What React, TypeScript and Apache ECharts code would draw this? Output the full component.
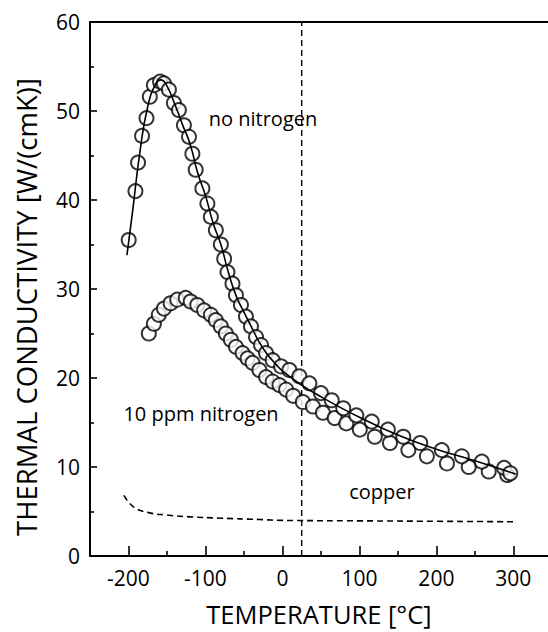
import React, { useEffect, useRef } from "react";
import * as echarts from "echarts";

// Temperature [°C], thermal conductivity [W/(cmK)]
const noNitrogenPoints: number[][] = [
  [-199.7, 35.5], [-191, 41.0], [-187.6, 44.2], [-182.4, 47.2], [-176.6, 49.2],
  [-172.3, 51.6], [-167, 52.9], [-159, 53.3], [-154, 53.1], [-147.5, 52.4],
  [-141, 50.9], [-134.5, 50.1], [-128, 48.4], [-121.4, 47.1], [-117, 45.2],
  [-112.7, 43.4], [-104, 41.3], [-97.5, 39.6], [-93, 38.1], [-86.5, 36.6],
  [-80, 35.0], [-75.7, 33.4], [-71.4, 31.9], [-64.9, 30.6], [-60.4, 29.3],
  [-53.9, 28.2], [-47.4, 26.9], [-40.9, 25.8], [-34.3, 24.6], [-27.8, 23.7],
  [-21.3, 22.8], [-12.7, 22.0], [-1.7, 21.3], [9, 20.9], [22, 20.2],
  [35, 19.4], [50, 18.3], [64, 17.5], [79, 16.6], [96, 15.8], [116, 15.1],
  [137, 14.2], [157, 13.4], [179, 12.7], [207, 11.9], [233, 11.2],
  [259, 10.6], [288, 9.9], [296, 9.3],
];

const noNitrogenFit: number[][] = [
  [-202, 33.8], [-195, 38.5], [-185, 45.5], [-175, 50.5], [-165, 53.0],
  [-158, 53.5], [-150, 52.8], [-140, 50.8], [-130, 48.5], [-120, 46.3],
  [-110, 43.0], [-100, 40.5], [-90, 37.4], [-80, 35.0], [-70, 31.8],
  [-60, 29.2], [-50, 27.4], [-40, 25.7], [-30, 24.0], [-20, 22.7],
  [-10, 21.7], [0, 20.8], [25, 19.2], [50, 17.9], [75, 16.7], [100, 15.6],
  [150, 13.6], [200, 12.0], [250, 10.7], [303, 9.2],
];

const tenPpmPoints: number[][] = [
  [-173.6, 25.0], [-167, 26.1], [-160.6, 27.1], [-154, 27.8], [-145.3, 28.4],
  [-136.7, 28.8], [-125.7, 29.0], [-119.2, 28.6], [-110.6, 28.2], [-101.8, 27.6],
  [-93, 27.1], [-86.6, 26.5], [-80, 25.8], [-73.5, 25.0], [-67, 24.3],
  [-60.4, 23.5], [-51.8, 22.8], [-45.3, 22.2], [-38.8, 21.7], [-30, 20.9],
  [-21.3, 20.1], [-12.7, 19.6], [-3.9, 19.2], [4.8, 18.7], [14, 18.0],
  [26.5, 17.3], [39.6, 16.8], [52.6, 16.1], [67.9, 15.5], [83, 14.9],
  [100.5, 14.2], [120, 13.4], [139.7, 12.7], [163.6, 11.9], [187.6, 11.2],
  [213.7, 10.4], [242, 10.0], [268, 9.5], [292, 9.1],
];

const copperCurve: number[][] = [
  [-206, 6.8], [-193, 5.5], [-175, 4.9], [-150, 4.6], [-120, 4.4],
  [-80, 4.25], [-30, 4.1], [0, 4.0], [100, 3.95], [200, 3.9], [300, 3.85],
];

const roomTemperature = 25;
const xMajorTicks = [-200, -100, 0, 100, 200, 300];
const xMinorTicks = [-150, -50, 50, 150, 250];

const FONT = "Open Sans";

export default function App() {
  const ref = useRef<HTMLDivElement>(null);
  useEffect(() => {
    if (!ref.current) return;
    const chart = echarts.init(ref.current, undefined, { renderer: "svg" });
    const circleStyle = {
      color: "#fff",
      borderColor: "#000",
      borderWidth: 2,
    };
    chart.setOption({
      animation: false,
      backgroundColor: "#fff",
      grid: { left: 90, right: 0, top: 22, bottom: 76, containLabel: false, outerBoundsMode: "none" },
      xAxis: [
        {
          type: "value",
          min: -250,
          max: 345,
          position: "bottom",
          axisLine: { show: true, onZero: false, lineStyle: { color: "#000", width: 2 } },
          axisTick: { show: true, inside: true, length: 10, customValues: xMajorTicks, lineStyle: { color: "#000", width: 1.6 } },
          axisLabel: { show: true, customValues: xMajorTicks, color: "#000", fontSize: 21, fontFamily: FONT, margin: 11 },
          splitLine: { show: false },
          name: "TEMPERATURE [°C]",
          nameLocation: "middle",
          nameGap: 45,
          nameTextStyle: { color: "#000", fontSize: 25.5, fontFamily: FONT },
        },
        {
          type: "value",
          min: -250,
          max: 345,
          position: "bottom",
          axisLine: { show: false },
          axisTick: { show: true, inside: true, length: 5, customValues: xMinorTicks, lineStyle: { color: "#000", width: 1.6 } },
          axisLabel: { show: false },
          splitLine: { show: false },
        },
        {
          type: "value",
          min: -250,
          max: 345,
          position: "top",
          axisLine: { show: true, onZero: false, lineStyle: { color: "#000", width: 2 } },
          axisTick: { show: false },
          axisLabel: { show: false },
          splitLine: { show: false },
        },
      ],
      yAxis: [
        {
          type: "value",
          min: 0,
          max: 60,
          interval: 10,
          axisLine: { show: true, onZero: false, lineStyle: { color: "#000", width: 2 } },
          axisTick: { show: true, inside: true, length: 7, lineStyle: { color: "#000", width: 1.6 } },
          minorTick: { show: true, splitNumber: 2, length: 4, lineStyle: { color: "#000", width: 1.6 } },
          axisLabel: { color: "#000", fontSize: 21, fontFamily: FONT, margin: 10 },
          splitLine: { show: false },
          minorSplitLine: { show: false },
        },
      ],
      graphic: [
        {
          type: "text",
          x: 26,
          y: 307,
          rotation: Math.PI / 2,
          style: {
            text: "THERMAL CONDUCTIVITY [W/(cmK)]",
            fill: "#000",
            font: `27.5px "${FONT}"`,
            textAlign: "center",
            textVerticalAlign: "middle",
          },
        },
        {
          type: "text",
          x: 263,
          y: 118,
          style: { text: "no nitrogen", fill: "#000", font: `20px "${FONT}"`, textAlign: "center", textVerticalAlign: "middle" },
        },
        {
          type: "text",
          x: 201,
          y: 413,
          style: { text: "10 ppm nitrogen", fill: "#000", font: `20px "${FONT}"`, textAlign: "center", textVerticalAlign: "middle" },
        },
        {
          type: "text",
          x: 382,
          y: 491,
          style: { text: "copper", fill: "#000", font: `20px "${FONT}"`, textAlign: "center", textVerticalAlign: "middle" },
        },
      ],
      series: [
        {
          type: "line",
          data: [[roomTemperature, 0], [roomTemperature, 60]],
          showSymbol: false,
          lineStyle: { color: "#000", width: 1.4, type: [6, 4] },
          z: 1,
          silent: true,
        },
        {
          type: "line",
          data: copperCurve,
          smooth: true,
          showSymbol: false,
          lineStyle: { color: "#000", width: 1.6, type: [6, 4] },
          z: 2,
          silent: true,
        },
        {
          type: "scatter",
          data: tenPpmPoints,
          symbol: "circle",
          symbolSize: 14,
          itemStyle: circleStyle,
          z: 3,
        },
        {
          type: "scatter",
          data: noNitrogenPoints,
          symbol: "circle",
          symbolSize: 14,
          itemStyle: circleStyle,
          z: 4,
        },
        {
          type: "line",
          data: noNitrogenFit,
          smooth: true,
          showSymbol: false,
          lineStyle: { color: "#000", width: 1.6 },
          z: 5,
          silent: true,
        },
      ],
    });
    return () => chart.dispose();
  }, []);
  return (
    <div
      ref={ref}
      style={{ position: "fixed", left: 0, top: 0, width: 548, height: 632, background: "#fff" }}
    />
  );
}
